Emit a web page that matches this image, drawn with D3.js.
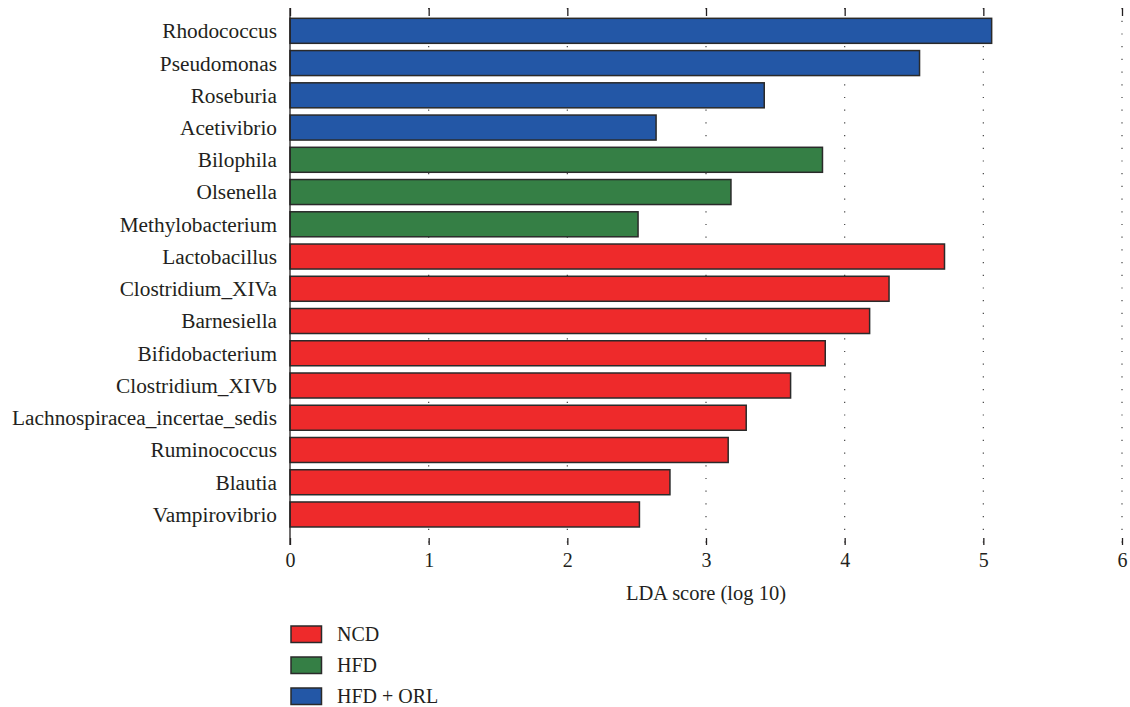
<!DOCTYPE html>
<html>
<head>
<meta charset="utf-8">
<script src="https://cdn.jsdelivr.net/npm/d3@7"></script>
<style>
  body { margin: 0; background: #fff; }
  text { font-family: "Liberation Serif", "DejaVu Serif", serif; fill: #231f20; }
</style>
</head>
<body>
<div id="chart"></div>
<script>
// Données
const taxa = [
  "Rhodococcus", "Pseudomonas", "Roseburia", "Acetivibrio",
  "Bilophila", "Olsenella", "Methylobacterium",
  "Lactobacillus", "Clostridium_XIVa", "Barnesiella", "Bifidobacterium",
  "Clostridium_XIVb", "Lachnospiracea_incertae_sedis", "Ruminococcus", "Blautia", "Vampirovibrio"
];
const ldaScores = [5.06, 4.54, 3.42, 2.64, 3.84, 3.18, 2.51, 4.72, 4.32, 4.18, 3.86, 3.61, 3.29, 3.16, 2.74, 2.52];
const groups = ["HFD + ORL", "HFD + ORL", "HFD + ORL", "HFD + ORL", "HFD", "HFD", "HFD",
  "NCD", "NCD", "NCD", "NCD", "NCD", "NCD", "NCD", "NCD", "NCD"];
const xTicks = [0, 1, 2, 3, 4, 5, 6];
const legendLabels = ["NCD", "HFD", "HFD + ORL"];
const legendColors = ["#ee2a2b", "#357f45", "#2357a6"];

const data = taxa.map((t, i) => ({ taxon: t, score: ldaScores[i], group: groups[i] }));

//---------------------------------------------------------------------------------------

// Canevas
const width = 1130;
const height = 707;

const svg = d3.select("#chart")
  .append("svg")
  .attr("width", width)
  .attr("height", height);

// Échelles
const scaleX = d3.scaleLinear().domain([0, 6]).range([290, 1122]);
const scaleY = d3.scaleBand()
  .domain(taxa)
  .range([14.7, 530.6])
  .paddingInner(0.2246)
  .paddingOuter(0.1123);
const color = d3.scaleOrdinal().domain(legendLabels).range(legendColors);

const yTop = 8;
const yBottom = 545;

//---------------------------------------------------------------------------------------

// Grille pointillée (derrière les barres)
svg.append("g")
  .selectAll("line")
  .data(xTicks.filter(d => d > 0))
  .join("line")
  .attr("x1", d => scaleX(d))
  .attr("x2", d => scaleX(d))
  .attr("y1", yTop)
  .attr("y2", yBottom)
  .attr("stroke", "#444")
  .attr("stroke-width", 1.2)
  .attr("stroke-dasharray", "1.2,11.5");

// Barres
svg.append("g")
  .selectAll("rect")
  .data(data)
  .join("rect")
  .attr("x", scaleX(0))
  .attr("y", d => scaleY(d.taxon))
  .attr("width", d => scaleX(d.score) - scaleX(0))
  .attr("height", scaleY.bandwidth())
  .attr("fill", d => color(d.group))
  .attr("stroke", "#2a2a2a")
  .attr("stroke-width", 1.5);

//---------------------------------------------------------------------------------------

// Axe du haut (graduations seules)
svg.append("g")
  .attr("transform", `translate(0, ${yTop})`)
  .call(d3.axisBottom(scaleX).tickValues(xTicks).tickSize(8).tickFormat(""))
  .call(g => g.select(".domain").remove())
  .selectAll(".tick line").attr("stroke", "#231f20").attr("stroke-width", 1.3);

// Axe du bas
svg.append("g")
  .attr("transform", `translate(0, ${yBottom})`)
  .call(d3.axisTop(scaleX).tickValues(xTicks).tickSize(7).tickFormat(d3.format("d")))
  .call(g => g.select(".domain").remove())
  .call(g => g.selectAll(".tick line").attr("stroke", "#231f20").attr("stroke-width", 1.3))
  .call(g => g.selectAll(".tick text")
    .attr("y", 8)
    .attr("dy", "0.71em")
    .style("font-size", "20px")
    .style("font-family", "'Liberation Serif', serif"));

// Axe vertical
svg.append("line")
  .attr("x1", scaleX(0)).attr("x2", scaleX(0))
  .attr("y1", yTop).attr("y2", yBottom)
  .attr("stroke", "#231f20")
  .attr("stroke-width", 1.3);

// Étiquettes des taxons
svg.append("g")
  .selectAll("text")
  .data(taxa)
  .join("text")
  .attr("x", 277)
  .attr("y", d => scaleY(d) + scaleY.bandwidth() / 2)
  .attr("dy", "0.35em")
  .attr("text-anchor", "end")
  .style("font-size", "21.3px")
  .text(d => d);

// Titre de l'axe
svg.append("text")
  .attr("x", (scaleX(0) + scaleX(6)) / 2)
  .attr("y", 600)
  .attr("text-anchor", "middle")
  .style("font-size", "20.5px")
  .text("LDA score (log 10)");

//---------------------------------------------------------------------------------------

// Légende
const legend = svg.selectAll(".legend")
  .data(legendLabels)
  .join("g")
  .attr("class", "legend")
  .attr("transform", (d, i) => `translate(291, ${626 + i * 31})`);

legend.append("rect")
  .attr("width", 30.5)
  .attr("height", 16.5)
  .attr("fill", d => color(d))
  .attr("stroke", "#2a2a2a")
  .attr("stroke-width", 1.5);

legend.append("text")
  .attr("x", 46)
  .attr("y", 8.3)
  .attr("dy", "0.35em")
  .style("font-size", "20px")
  .text(d => d);
</script>
</body>
</html>
